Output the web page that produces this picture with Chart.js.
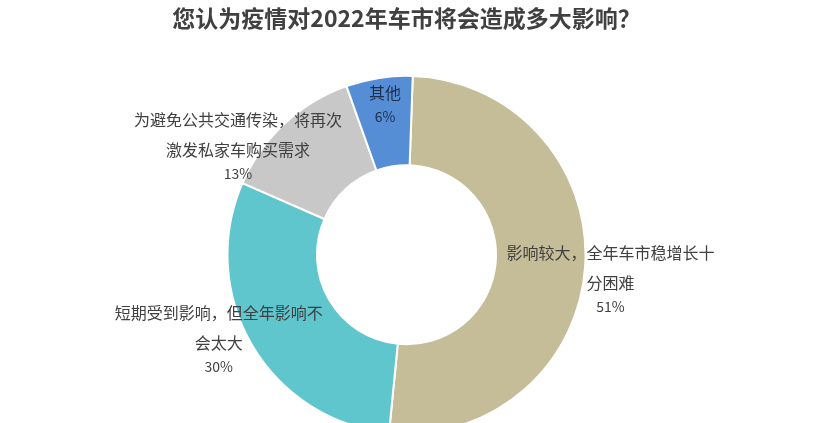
<!DOCTYPE html>
<html>
<head>
<meta charset="utf-8">
<script src="https://cdn.jsdelivr.net/npm/chart.js@4/dist/chart.umd.min.js"></script>
<style>
  html, body { margin: 0; padding: 0; background: #fff; overflow: hidden; }
  #wrap { width: 820px; height: 423px; position: relative; }
</style>
</head>
<body>
<div id="wrap"><canvas id="impactChart"></canvas></div>
<script>
const chartTitle = '您认为疫情对2022年车市将会造成多大影响？';
const categories = [
    ['影响较大，全年车市稳增长十', '分困难'],
    ['短期受到影响，但全年影响不', '会太大'],
    ['为避免公共交通传染，将再次', '激发私家车购买需求'],
    ['其他']
];
const shares = [51, 30, 13, 6];
const colors = ['#C4BD97', '#5EC6CC', '#C8C8C8', '#558ED5'];
const textColors = ['#404040', '#404040', '#404040', '#1F2D4D'];
// where each label's first line sits, relative to the middle of its slice
const labelShift = [[70, -11], [-72, -10], [-77, -37], [-1, -29]];

const sliceLabels = {
    id: 'sliceLabels',
    afterDatasetsDraw(chart) {
        const ctx = chart.ctx;
        const meta = chart.getDatasetMeta(0);
        const total = shares.reduce((a, b) => a + b, 0);
        ctx.save();
        ctx.textAlign = 'center';
        ctx.textBaseline = 'middle';
        meta.data.forEach((arc, i) => {
            const p = arc.getProps(['x', 'y', 'startAngle', 'endAngle', 'innerRadius', 'outerRadius'], true);
            const mid = (p.startAngle + p.endAngle) / 2;
            const r = (p.innerRadius + p.outerRadius) / 2;
            const x = p.x + Math.cos(mid) * r + labelShift[i][0];
            let y = p.y + Math.sin(mid) * r + labelShift[i][1];
            ctx.fillStyle = textColors[i];
            ctx.font = '16px "Noto Sans CJK SC", sans-serif';
            categories[i].forEach((line, k) => {
                if (k > 0) y += 30;
                ctx.fillText(line, x, y);
            });
            y += 24;
            ctx.font = '14px "Noto Sans CJK SC", sans-serif';
            ctx.fillText(Math.round(shares[i] / total * 100) + '%', x, y);
        });
        ctx.restore();
    }
};

const ctx = document.getElementById('impactChart').getContext('2d');
const impactChart = new Chart(ctx, {
    type: 'doughnut',
    data: {
        labels: categories.map(c => c.join('')),
        datasets: [{
            data: shares,
            backgroundColor: colors,
            borderColor: '#ffffff',
            borderWidth: 2,
            hoverOffset: 0,
            clip: false
        }]
    },
    options: {
        responsive: true,
        maintainAspectRatio: false,
        animation: false,
        events: [],
        rotation: 2,
        radius: 179,
        cutout: '50%',
        layout: { padding: { left: 0, right: 7, top: 0, bottom: 0 } },
        plugins: {
            legend: { display: false },
            tooltip: { enabled: false },
            title: {
                display: true,
                text: chartTitle,
                color: '#404040',
                font: { family: '"Noto Sans CJK SC", sans-serif', size: 23, weight: 'bold' },
                padding: { top: 4, bottom: 55 }
            }
        }
    },
    plugins: [sliceLabels]
});
</script>
</body>
</html>
